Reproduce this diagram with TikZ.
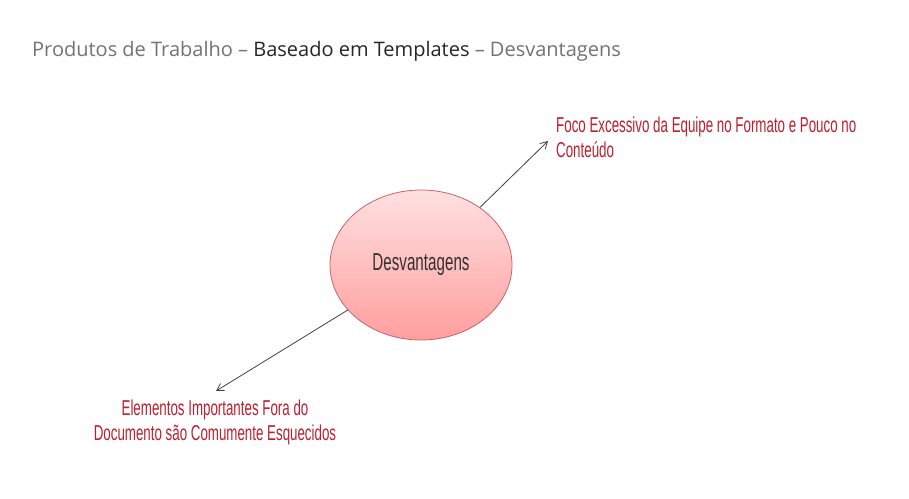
\documentclass[tikz,border=0pt]{standalone}
\usepackage{fontspec}
\setmainfont{Open Sans}
\newfontfamily\narrowfont[FakeStretch=0.62]{Liberation Sans}
\usepackage{tikz}
\usetikzlibrary{arrows.meta, shapes.geometric}

\definecolor{labelred}{RGB}{190,30,45}
\definecolor{titlegray}{RGB}{115,115,115}
\definecolor{ellborder}{RGB}{200,100,105}

\begin{document}
\begin{tikzpicture}[x=1pt, y=-1pt, >={Straight Barb[length=7pt, width=8pt]},
  every node/.style={inner sep=0pt},
  label/.style={font=\narrowfont\fontsize{21.5}{25}\selectfont, text=labelred},
  bubble/.style={ellipse, draw=ellborder, line width=0.8pt, minimum width=182pt, minimum height=150pt,
    top color=red!12, bottom color=red!38!white, font=\narrowfont\fontsize{24.5}{28}\selectfont, text=black!80}]
\useasboundingbox (0,0) rectangle (909,498);
\node[anchor=base west, font=\fontsize{20}{24}\selectfont, text=titlegray] (title) at (32,56)
  {Produtos de Trabalho -- \textcolor{black!85}{Baseado em Templates} -- Desvantagens};
\node[bubble] (desv) at (421,265) {Desvantagens};
\node[label, anchor=north west, align=left] (foco) at (556,117)
  {Foco Excessivo da Equipe no Formato e Pouco no\\Conteúdo};
\node[label, anchor=north, align=center] (elem) at (215,400)
  {Elementos Importantes Fora do\\Documento são Comumente Esquecidos};
\coordinate (t1) at (548,141);
\coordinate (t2) at (216,391);
\draw[->, black!75, line width=0.8pt] (desv) -- (t1);
\draw[->, black!75, line width=0.8pt] (desv) -- (t2);
\end{tikzpicture}
\end{document}
